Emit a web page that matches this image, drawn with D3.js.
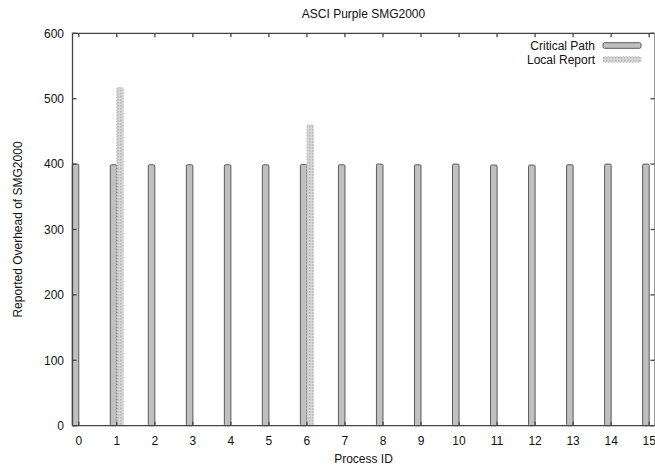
<!DOCTYPE html>
<html><head><meta charset="utf-8">
<script src="https://cdn.jsdelivr.net/npm/d3@7"></script>
<style>body{margin:0;background:#fff}svg{display:block}text{font-family:"Liberation Sans",Arial,Helvetica,sans-serif;fill:#111}</style>
</head><body><svg id="c" width="655" height="467"></svg>
<script>
const processIds = d3.range(0, 16);
const criticalPath = [400, 399, 399, 399, 399, 399, 399.5, 399, 400, 399, 400, 398.5, 398.5, 399, 400, 400];
const localReport  = [0, 517, 0, 0, 0, 0, 460, 0, 0, 0, 0, 0, 0, 0, 0, 0];
const yTicks = [0, 100, 200, 300, 400, 500, 600];
const seriesNames = ["Critical Path", "Local Report"];

const svg = d3.select("#c");
const L = 72.5, R = 654.5, T = 33.3, B = 425.7;
const x = d3.scaleLinear().domain([-0.165, 15.14]).range([L, R]);
const y = d3.scaleLinear().domain([0, 600]).range([B, T]);
const bw = 0.172;

const defs = svg.append("defs");
const pat = defs.append("pattern").attr("id", "dots").attr("patternUnits", "userSpaceOnUse").attr("width", 3).attr("height", 3);
pat.append("rect").attr("width", 3).attr("height", 3).attr("fill", "#d6d6d6");
pat.append("rect").attr("width", 1.5).attr("height", 1.5).attr("fill", "#b8b8b8");

// bars
svg.append("g").selectAll("rect").data(processIds).join("rect")
  .attr("x", d => x(d - bw)).attr("width", x(bw) - x(0))
  .attr("y", d => y(criticalPath[d])).attr("height", d => B - y(criticalPath[d]))
  .attr("rx", 1.2)
  .attr("fill", "#c0c0c0").attr("stroke", "#5a5a5a").attr("stroke-width", 1);
svg.append("g").selectAll("rect").data(processIds.filter(d => localReport[d] > 0)).join("rect")
  .attr("x", d => x(d)).attr("width", x(bw) - x(0))
  .attr("y", d => y(localReport[d])).attr("height", d => B - y(localReport[d]))
  .attr("rx", 1.2)
  .attr("fill", "url(#dots)").attr("stroke", "#c4c4c4").attr("stroke-width", 1).attr("stroke-dasharray", "1.5,1.5");

// frame
svg.append("path").attr("d", `M${R},${T}H${L}V${B}H${R}`)
  .attr("fill", "none").attr("stroke", "#444").attr("stroke-width", 1.3);
svg.append("line").attr("x1", R).attr("x2", R).attr("y1", T).attr("y2", B)
  .attr("stroke", "#999").attr("stroke-width", 1);

// axes (inward ticks, mirrored)
const ax = svg.append("g").attr("stroke", "#444").attr("stroke-width", 1.3);
processIds.forEach(d => {
  ax.append("line").attr("x1", x(d)).attr("x2", x(d)).attr("y1", B).attr("y2", B - 4);
  ax.append("line").attr("x1", x(d)).attr("x2", x(d)).attr("y1", T).attr("y2", T + 4);
});
yTicks.forEach(v => {
  ax.append("line").attr("x1", L).attr("x2", L + 4).attr("y1", y(v)).attr("y2", y(v));
  ax.append("line").attr("x1", R).attr("x2", R - 4).attr("y1", y(v)).attr("y2", y(v));
});
svg.append("g").selectAll("text").data(processIds).join("text")
  .attr("x", d => x(d)).attr("y", 445).attr("text-anchor", "middle").attr("font-size", 12).text(d => d);
svg.append("g").selectAll("text").data(yTicks).join("text")
  .attr("x", 64).attr("y", v => y(v) + 4.3).attr("text-anchor", "end").attr("font-size", 12).text(v => v);

// titles
svg.append("text").attr("x", (L + R) / 2).attr("y", 18).attr("text-anchor", "middle").attr("font-size", 12).text("ASCI Purple SMG2000");
svg.append("text").attr("x", (L + R) / 2).attr("y", 463).attr("text-anchor", "middle").attr("font-size", 12).text("Process ID");
svg.append("text").attr("transform", `translate(22,${(T + B) / 2}) rotate(-90)`).attr("text-anchor", "middle").attr("font-size", 12).text("Reported Overhead of SMG2000");

// legend
const lg = svg.append("g");
seriesNames.forEach((n, i) => {
  const yy = 45.5 + i * 14;
  lg.append("text").attr("x", 595).attr("y", yy + 4).attr("text-anchor", "end").attr("font-size", 12).text(n);
  lg.append("rect").attr("x", 603).attr("y", yy - 2.8).attr("width", 38).attr("height", 5.6).attr("rx", 1.5)
    .attr("fill", i === 0 ? "#c0c0c0" : "url(#dots)")
    .attr("stroke", i === 0 ? "#5a5a5a" : "#c4c4c4").attr("stroke-width", 1)
    .attr("stroke-dasharray", i === 0 ? null : "1.5,1.5");
});
</script></body></html>
